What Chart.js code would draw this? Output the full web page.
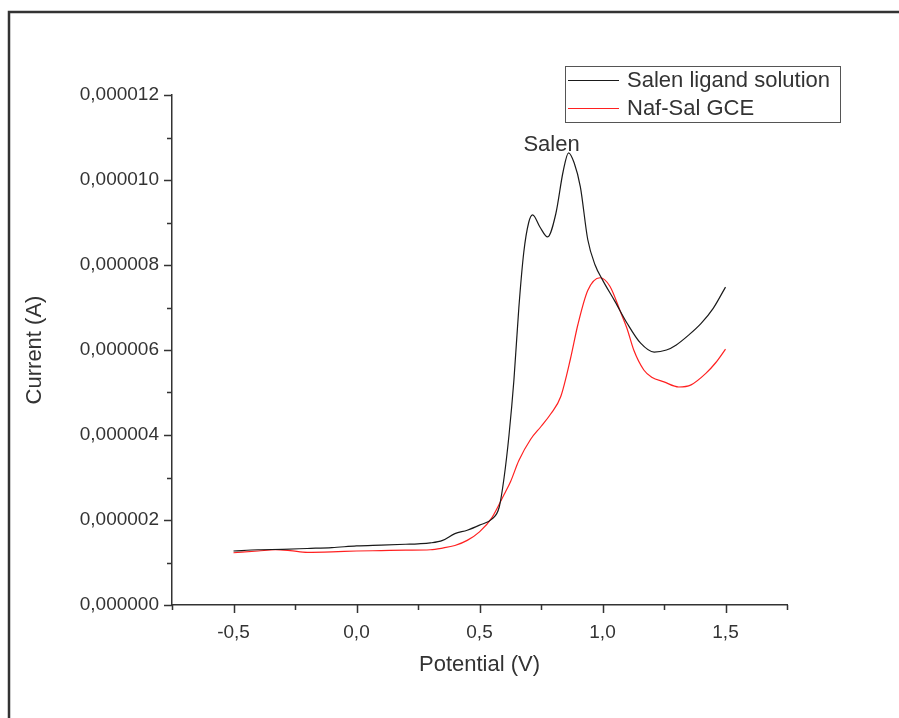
<!DOCTYPE html>
<html lang="en">
<head>
    <meta charset="UTF-8">
    <title>Salen - Current vs Potential</title>
    <script src="https://cdn.jsdelivr.net/npm/chart.js@4"></script>
    <style>
        * { margin: 0; padding: 0; box-sizing: border-box; }
        body { background: #fff; width: 899px; height: 718px; overflow: hidden; }
        canvas { display: block; }
    </style>
</head>
<body>
    <canvas id="cv" width="899" height="718"></canvas>

    <script>
        // Potential (V) and current (A)
        const salenX = [-0.5, -0.4, -0.3, -0.2, -0.1, 0.0, 0.1, 0.2, 0.25, 0.3, 0.35, 0.4, 0.45, 0.5, 0.55, 0.58,
                        0.6, 0.62, 0.64, 0.66, 0.68, 0.7, 0.716, 0.745, 0.777, 0.81, 0.84, 0.862, 0.885, 0.91, 0.94,
                        0.97, 1.0, 1.05, 1.1, 1.155, 1.21, 1.26, 1.3, 1.35, 1.4, 1.45, 1.5];
        const salenY = [1.27, 1.30, 1.31, 1.33, 1.35, 1.39, 1.41, 1.43, 1.44, 1.46, 1.52, 1.68, 1.76, 1.88, 2.02, 2.3,
                        3.0, 4.0, 5.3, 7.0, 8.3, 9.0, 9.18, 8.9, 8.66, 9.2, 10.2, 10.64, 10.4, 9.84, 8.6,
                        8.0, 7.65, 7.15, 6.63, 6.16, 5.95, 6.0, 6.12, 6.35, 6.62, 6.98, 7.48];

        const nafX = [-0.5, -0.4, -0.33, -0.27, -0.2, -0.1, 0.0, 0.1, 0.2, 0.3, 0.35, 0.4, 0.45, 0.5, 0.55,
                      0.6, 0.626, 0.66, 0.708, 0.75, 0.79, 0.83, 0.87, 0.9, 0.94, 0.99, 1.03, 1.075, 1.1,
                      1.127, 1.168, 1.2, 1.25, 1.31, 1.36, 1.42, 1.46, 1.5];
        const nafY = [1.23, 1.27, 1.30, 1.28, 1.24, 1.25, 1.27, 1.28, 1.29, 1.30, 1.34, 1.40, 1.52, 1.72, 2.05,
                      2.6, 2.9, 3.4, 3.9, 4.2, 4.5, 4.9, 5.8, 6.6, 7.4, 7.7, 7.5, 6.87, 6.5,
                      6.0, 5.53, 5.36, 5.25, 5.13, 5.18, 5.45, 5.7, 6.02];

        const seriesNames = ['Salen ligand solution', 'Naf-Sal GCE'];
        const seriesColors = ['#1a1a1a', '#ff2020'];
        const xTickLabels = { '-0.5': '-0,5', '0.0': '0,0', '0.5': '0,5', '1.0': '1,0', '1.5': '1,5' };
        const peakLabel = { text: 'Salen', x: 0.793, y: 10.87e-6 };

        const textColor = '#333333';
        const axisColor = '#333333';
        const fontFamily = '"Liberation Sans", Arial, sans-serif';

        function toPoints(xs, ys) {
            return xs.map((x, i) => ({ x: x, y: ys[i] * 1e-6 }));
        }

        // frame, ticks, legend box and peak label
        const extras = {
            id: 'extras',
            afterDraw(chart) {
                const c = chart.ctx;
                const xs = chart.scales.x, ys = chart.scales.y;
                const area = chart.chartArea;
                c.save();

                // outer frame (left and top only visible)
                c.strokeStyle = '#333';
                c.lineWidth = 2.5;
                c.beginPath();
                c.moveTo(9, 718);
                c.lineTo(9, 12);
                c.lineTo(899, 12);
                c.stroke();

                // tick marks
                c.strokeStyle = axisColor;
                c.lineWidth = 1.5;
                c.beginPath();
                xs.ticks.forEach(t => {
                    const px = Math.round(xs.getPixelForValue(t.value)) + 0.5;
                    const major = Math.abs(Math.round(t.value * 2) - t.value * 2) < 1e-6;
                    c.moveTo(px, area.bottom);
                    c.lineTo(px, area.bottom + (major ? 8 : 5));
                });
                ys.ticks.forEach(t => {
                    const py = Math.round(ys.getPixelForValue(t.value)) + 0.5;
                    const major = Math.round(t.value * 1e6) % 2 === 0;
                    c.moveTo(area.left, py);
                    c.lineTo(area.left - (major ? 8 : 5), py);
                });
                c.stroke();

                // legend
                const lx = 565, ly = 66, lw = 275, lh = 56;
                c.strokeStyle = '#555';
                c.lineWidth = 1;
                c.strokeRect(lx + 0.5, ly + 0.5, lw, lh);
                c.font = '22px ' + fontFamily;
                c.textBaseline = 'middle';
                c.textAlign = 'left';
                chart.data.datasets.forEach((ds, i) => {
                    const rowY = ly + 14 + i * 28;
                    c.strokeStyle = ds.borderColor;
                    c.lineWidth = 1;
                    c.beginPath();
                    c.moveTo(lx + 3, rowY + 0.5);
                    c.lineTo(lx + 54, rowY + 0.5);
                    c.stroke();
                    c.fillStyle = textColor;
                    c.fillText(ds.label, lx + 62, rowY + 1);
                });

                // peak label
                c.textAlign = 'center';
                c.textBaseline = 'alphabetic';
                c.fillText(peakLabel.text, xs.getPixelForValue(peakLabel.x), ys.getPixelForValue(peakLabel.y) + 8);
                c.restore();
            }
        };

        const ctx = document.getElementById('cv').getContext('2d');
        const chart = new Chart(ctx, {
            type: 'scatter',
            data: {
                datasets: [
                    {
                        label: seriesNames[0],
                        data: toPoints(salenX, salenY),
                        borderColor: seriesColors[0],
                        borderWidth: 1.2,
                        showLine: true,
                        pointRadius: 0,
                        cubicInterpolationMode: 'monotone'
                    },
                    {
                        label: seriesNames[1],
                        data: toPoints(nafX, nafY),
                        borderColor: seriesColors[1],
                        borderWidth: 1.2,
                        showLine: true,
                        pointRadius: 0,
                        cubicInterpolationMode: 'monotone'
                    }
                ]
            },
            options: {
                responsive: false,
                animation: false,
                devicePixelRatio: 1,
                layout: { padding: { left: 10, top: 95, right: 112, bottom: 20 } },
                plugins: {
                    legend: { display: false },
                    tooltip: { enabled: false }
                },
                scales: {
                    x: {
                        type: 'linear',
                        min: -0.75,
                        max: 1.75,
                        afterFit(scale) { scale.height = 93; },
                        border: { color: axisColor, width: 1.5 },
                        grid: { drawOnChartArea: false, drawTicks: false },
                        ticks: {
                            stepSize: 0.25,
                            padding: 16,
                            maxRotation: 0,
                            autoSkip: false,
                            color: textColor,
                            font: { family: fontFamily, size: 19 },
                            callback: v => Math.abs(v * 2 - Math.round(v * 2)) < 1e-6 &&
                                xTickLabels[Number(v).toFixed(1)] !== undefined ? xTickLabels[Number(v).toFixed(1)] : ''
                        },
                        title: {
                            display: true,
                            text: 'Potential (V)',
                            color: textColor,
                            font: { family: fontFamily, size: 22 },
                            padding: { top: 0, bottom: 20 }
                        }
                    },
                    y: {
                        min: 0,
                        max: 12e-6,
                        afterFit(scale) { scale.width = 162; },
                        border: { color: axisColor, width: 1.5 },
                        grid: { drawOnChartArea: false, drawTicks: false },
                        ticks: {
                            stepSize: 1e-6,
                            padding: 13,
                            autoSkip: false,
                            color: textColor,
                            font: { family: fontFamily, size: 19 },
                            callback: v => {
                                const n = Math.round(v * 1e6);
                                return n % 2 === 0 ? (n * 1e-6).toFixed(6).replace('.', ',') : '';
                            }
                        },
                        title: {
                            display: true,
                            text: 'Current (A)',
                            color: textColor,
                            font: { family: fontFamily, size: 22 },
                            padding: { top: 12, bottom: 0 }
                        }
                    }
                }
            },
            plugins: [extras]
        });
    </script>
</body>
</html>
